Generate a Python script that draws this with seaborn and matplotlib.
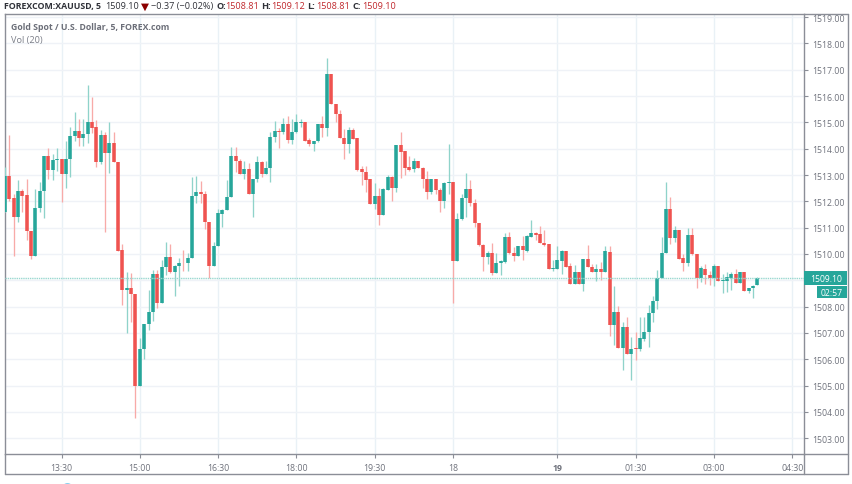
import numpy as np
import pandas as pd
import matplotlib
matplotlib.use("Agg")
import matplotlib.pyplot as plt
from matplotlib.lines import Line2D
from matplotlib.patches import Rectangle, Circle
import seaborn as sns

opens = [1511.58,1512.97,1512.11,1511.39,1512.40,1512.24,1510.88,1509.93,1511.73,1512.40,
1513.71,1513.19,1513.57,1513.60,1513.02,1513.60,1514.49,1514.69,1514.41,1514.55,
1515.00,1514.81,1513.50,1514.53,1513.82,1514.20,1513.48,1510.15,1508.64,1508.70,
1508.47,1504.99,1506.39,1507.34,1507.79,1509.24,1508.14,1509.50,1509.88,1509.33,
1509.53,1509.66,1509.64,1509.85,1512.19,1512.36,1512.28,1511.23,1509.56,1510.32,
1511.53,1511.69,1512.16,1513.71,1513.55,1513.03,1513.23,1512.26,1512.85,1513.51,
1513.03,1513.26,1514.45,1514.69,1514.65,1514.93,1514.33,1514.63,1514.99,1515.01,
1514.32,1514.18,1514.30,1514.93,1514.79,1516.83,1515.70,1515.31,1514.42,1514.18,
1514.71,1514.40,1513.21,1513.13,1512.83,1511.90,1512.22,1511.49,1512.42,1512.94,
1512.52,1514.14,1513.90,1513.31,1513.21,1513.55,1513.27,1512.85,1512.34,1512.83,
1512.43,1512.03,1512.69,1512.72,1509.74,1511.33,1512.13,1512.46,1511.94,1511.17,
1510.34,1509.89,1510.04,1509.28,1509.65,1509.69,1510.65,1510.03,1509.94,1510.29,
1510.12,1510.66,1510.81,1510.76,1510.42,1510.38,1509.43,1509.43,1509.75,1510.12,
1509.53,1508.86,1509.31,1508.86,1509.80,1509.52,1509.31,1509.43,1509.31,1510.09,
1507.32,1507.81,1506.42,1507.24,1506.19,1506.42,1506.38,1506.77,1507.03,1507.75,
1508.20,1509.09,1510.04,1511.72,1510.62,1510.93,1509.84,1509.66,1510.74,1510.01,
1509.09,1509.43,1509.20,1509.09,1509.55,1508.99,1508.99,1509.10,1509.24,1508.91,
1509.33,1508.61,1508.70,1508.81]

closes = [1512.97,1512.09,1511.39,1512.40,1512.21,1510.88,1509.93,1511.73,1512.40,1513.71,
1513.19,1513.58,1513.60,1513.02,1513.60,1514.49,1514.69,1514.41,1514.55,1515.00,
1514.79,1513.50,1514.53,1513.83,1514.20,1513.48,1510.12,1508.64,1508.70,1508.47,
1504.99,1506.39,1507.34,1507.79,1509.24,1508.14,1509.50,1509.88,1509.31,1509.53,
1509.65,1509.64,1509.85,1512.19,1512.36,1512.27,1511.20,1509.56,1510.32,1511.56,
1511.69,1512.17,1513.71,1513.52,1513.03,1513.23,1512.26,1512.85,1513.49,1513.03,
1513.26,1514.45,1514.68,1514.65,1514.93,1514.33,1514.63,1515.01,1515.03,1514.31,
1514.18,1514.30,1514.93,1514.79,1516.83,1515.68,1515.30,1514.40,1514.18,1514.71,
1514.37,1513.18,1513.11,1512.82,1511.90,1512.22,1511.49,1512.45,1512.94,1512.52,
1514.14,1513.89,1513.28,1513.20,1513.55,1513.26,1512.85,1512.34,1512.83,1512.42,
1512.03,1512.69,1512.72,1509.75,1511.33,1512.13,1512.46,1511.93,1511.16,1510.34,
1509.89,1510.04,1509.28,1509.65,1509.72,1510.65,1510.02,1509.94,1510.29,1510.14,
1510.70,1510.81,1510.74,1510.41,1510.36,1509.43,1509.47,1509.78,1510.12,1509.51,
1508.86,1509.31,1508.86,1509.80,1509.50,1509.31,1509.43,1509.31,1510.10,1507.32,
1507.81,1506.42,1507.24,1506.19,1506.39,1506.38,1506.80,1507.03,1507.76,1508.23,
1509.09,1510.04,1511.72,1510.62,1510.93,1509.81,1509.66,1510.74,1510.01,1509.09,
1509.46,1509.20,1509.09,1509.55,1508.99,1509.03,1509.12,1509.24,1508.91,1509.33,
1508.61,1508.71,1508.80,1509.10]

highs = [1513.29,1514.52,1512.27,1512.82,1512.46,1512.84,1510.88,1512.46,1512.74,1513.73,
1514.01,1513.79,1514.01,1513.60,1514.30,1514.81,1515.40,1515.12,1515.12,1516.41,
1515.95,1515.10,1514.72,1514.62,1515.02,1514.62,1513.48,1510.38,1509.31,1509.27,
1508.47,1506.80,1507.34,1508.64,1509.41,1509.39,1509.77,1510.45,1510.38,1509.58,
1509.85,1510.15,1510.04,1512.94,1512.95,1512.79,1512.38,1511.23,1510.47,1511.71,
1511.71,1512.81,1514.06,1514.06,1513.61,1513.55,1513.46,1512.85,1513.74,1513.55,
1513.55,1514.63,1515.07,1514.78,1515.16,1515.23,1515.13,1515.32,1515.11,1515.01,
1514.40,1514.30,1514.93,1515.23,1517.44,1516.83,1515.70,1515.45,1514.75,1514.82,
1514.80,1514.40,1513.33,1513.33,1512.83,1512.70,1512.50,1512.50,1513.01,1512.98,
1514.14,1514.65,1513.90,1513.71,1513.64,1513.55,1513.32,1513.17,1512.85,1512.83,
1512.50,1512.72,1514.18,1512.72,1511.56,1512.28,1513.08,1512.81,1512.07,1511.17,
1510.38,1510.13,1510.41,1510.03,1509.79,1510.80,1510.83,1510.26,1510.32,1510.70,
1510.72,1511.31,1510.83,1511.05,1510.93,1510.38,1509.79,1510.32,1510.17,1510.12,
1509.65,1509.60,1509.31,1509.80,1510.36,1509.62,1509.62,1509.71,1510.29,1510.29,
1508.80,1508.01,1507.41,1507.60,1506.86,1507.03,1507.60,1507.62,1508.07,1508.42,
1509.41,1510.64,1512.75,1512.15,1511.05,1510.93,1510.00,1510.98,1510.98,1510.01,
1509.53,1509.62,1509.37,1509.62,1509.55,1509.24,1509.31,1509.31,1509.43,1509.33,
1509.33,1508.71,1508.82,1509.12]

lows = [1511.58,1512.02,1509.93,1511.22,1511.58,1510.54,1509.81,1509.93,1511.58,1511.35,
1512.84,1512.82,1513.16,1511.98,1512.52,1512.91,1514.30,1514.11,1514.11,1514.20,
1514.59,1513.31,1513.41,1510.84,1513.06,1513.48,1510.12,1508.07,1507.00,1507.41,
1503.77,1504.99,1506.02,1507.12,1507.46,1507.95,1508.14,1509.20,1509.27,1508.39,
1508.79,1509.34,1509.36,1509.85,1511.93,1511.94,1510.95,1509.10,1509.56,1510.29,
1511.04,1511.69,1512.16,1513.11,1513.03,1512.85,1512.26,1511.42,1512.75,1512.94,
1513.03,1512.75,1514.25,1514.03,1514.55,1514.21,1514.16,1514.60,1514.82,1514.30,
1514.12,1513.93,1514.25,1514.44,1514.47,1515.68,1515.01,1514.40,1513.61,1513.84,
1514.37,1513.17,1512.63,1512.37,1511.89,1511.71,1511.12,1511.49,1512.42,1512.02,
1512.37,1512.90,1513.01,1513.16,1513.13,1513.26,1512.50,1512.07,1512.26,1512.26,
1511.59,1511.76,1512.28,1508.14,1509.74,1511.31,1511.40,1511.81,1511.02,1510.32,
1509.37,1509.62,1509.21,1509.28,1509.22,1509.66,1510.00,1509.75,1509.94,1509.79,
1510.09,1510.66,1510.55,1510.40,1510.32,1509.43,1509.37,1509.43,1509.24,1509.51,
1508.86,1508.86,1508.86,1508.61,1509.50,1509.31,1508.99,1509.03,1509.31,1506.90,
1506.56,1506.42,1505.61,1506.19,1505.23,1505.98,1506.33,1506.69,1506.46,1507.43,
1507.91,1509.09,1510.04,1510.37,1510.45,1509.81,1509.37,1509.56,1509.96,1508.70,
1508.93,1508.86,1508.82,1508.80,1508.99,1508.51,1508.55,1508.65,1508.91,1508.90,
1508.60,1508.52,1508.33,1508.81]

time_tick_bars = [13, 31, 49, 67, 85, 103, 127, 145, 163, 181]
time_labels = ["13:30", "15:00", "16:30", "18:00", "19:30", "18", "19", "01:30", "03:00", "04:30"]
price_ticks = list(range(1503, 1520))
hidden_price_label = 1509
last_price = 1509.10
countdown = "02:57"

UP, DOWN = "#26a69a", "#ef5350"
UP_W, DOWN_W = "#8fd3ca", "#f8aaa8"
AXC, TXT = "#8b8e97", "#6f727c"
W, H = 852, 485
FONT = "Open Sans"

sns.set_theme(style="white", rc={"font.family": FONT})
fig = plt.figure(figsize=(W / 100, H / 100), dpi=100, facecolor="white")
ax = fig.add_axes([4.5 / W, 1 - 454.5 / H, 799 / W, 440 / H], facecolor="white")

bars = np.arange(len(opens))
direction = np.where(np.array(closes) >= np.array(opens), "up", "down")
frame = pd.DataFrame({"bar": bars, "dir": direction, "o": opens, "h": highs, "l": lows, "c": closes})
wicks = frame.melt(id_vars=["bar", "dir"], value_vars=["h", "l"], value_name="price")
bodies = frame.melt(id_vars=["bar", "dir"], value_vars=["o", "c"], value_name="price")

sns.lineplot(data=wicks, x="bar", y="price", units="bar", estimator=None, hue="dir", sort=False,
             palette={"up": UP_W, "down": DOWN_W}, legend=False, linewidth=0.95,
             solid_capstyle="butt", ax=ax, zorder=3)
sns.lineplot(data=bodies, x="bar", y="price", units="bar", estimator=None, hue="dir", sort=False,
             palette={"up": UP, "down": DOWN}, legend=False, linewidth=2.55,
             solid_capstyle="butt", ax=ax, zorder=4)

ax.set_xlim(-0.115, 183.6)
ax.set_ylim(1502.423, 1519.134)
ax.set_xlabel("")
ax.set_ylabel("")
ax.set_xticks(time_tick_bars, time_labels)
ax.set_yticks(price_ticks, ["" if p == hidden_price_label else f"{p:.2f}" for p in price_ticks])
ax.yaxis.tick_right()
ax.grid(True, axis="y", color="#eff2f7", linewidth=1.0, zorder=0)
ax.grid(True, axis="x", color="#e9f1f6", linewidth=1.0, zorder=0)
ax.set_axisbelow(True)
ax.tick_params(axis="both", length=3, width=0.8, color=AXC, labelcolor=TXT, labelsize=6.3, bottom=True, right=True, left=False)
ax.tick_params(axis="x", pad=3.5)
ax.tick_params(axis="y", pad=3.0)
for lab in ax.get_xticklabels():
    if lab.get_text() == "19":
        lab.set_fontweight("bold")
for spine in ax.spines.values():
    spine.set_color(AXC)
    spine.set_linewidth(1.0)

# last-price line and its labels in the price pane
ax.axhline(last_price, color="#9ad8d0", linewidth=1.0, linestyle=(0, (1, 0.6)), zorder=5)
tr = ax.get_yaxis_transform()
ax.add_patch(Rectangle((1.0, last_price - 0.26), 0.0545, 0.52, transform=tr, facecolor=UP,
                       edgecolor="none", clip_on=False, zorder=6))
ax.add_patch(Rectangle((1.0165, last_price - 0.77), 0.038, 0.47, transform=tr, facecolor=UP,
                       edgecolor="none", clip_on=False, zorder=6))
ax.text(1.0085, last_price, f"{last_price:.2f}", transform=tr, color="white", fontsize=6.2,
        va="center_baseline", ha="left", zorder=7)
ax.text(1.0355, last_price - 0.535, countdown, transform=tr, color="white", fontsize=6.2,
        va="center_baseline", ha="center", zorder=7)


def px(x, y):
    return x / W, 1 - y / H


# outer frame of the chart widget
for (x0, y0), (x1, y1) in [((4.5, 454.5), (4.5, 475)), ((4.5, 475), (847.5, 475)),
                           ((847.5, 475), (847.5, 14.5)), ((847.5, 14.5), (803.5, 14.5)),
                           ((803.5, 454.5), (803.5, 475)), ((803.5, 454.5), (847.5, 454.5))]:
    a, b = px(x0, y0), px(x1, y1)
    fig.add_artist(Line2D([a[0], b[0]], [a[1], b[1]], transform=fig.transFigure, color=AXC, linewidth=1.0))

# header line
DARK, RED = "#2f3138", "#c0282d"
def head(x, s, color=DARK, weight="normal", family=FONT, size=6.6):
    fig.text(*px(x, 6.3), s, color=color, fontweight=weight, family=family, fontsize=size, va="center", ha="left")

head(4.5, "FOREXCOM:XAUUSD, 5", weight="bold", size=6.3)
head(105.5, "1509.10")
head(140.5, "\u25bc", color="#8b0000", family="DejaVu Sans", size=7.5)
head(151, "\u22120.37 (\u22120.02%)")
head(216.5, "O:", weight="bold")
head(225.5, "1508.81", color=RED)
head(261, "H:", weight="bold")
head(271, "1509.12", color=RED)
head(307, "L:", weight="bold")
head(316, "1508.81", color=RED)
head(352.5, "C:", weight="bold")
head(362, "1509.10", color=RED)

fig.text(*px(11, 27.3), "Gold Spot / U.S. Dollar, 5, FOREX.com", color="#6b6e78", fontweight="bold",
         fontsize=6.35, va="center", ha="left")
fig.text(*px(11, 40), "Vol (20)", color="#7b7e88", fontsize=6.6, va="center", ha="left")

# corner of a round widget peeking in at the bottom edge
fig.add_artist(Circle(px(67.5, 487), 0.0055, transform=fig.transFigure, facecolor="#4fb8e8", edgecolor="none"))

fig.savefig("out.png", dpi=100, facecolor="white")
